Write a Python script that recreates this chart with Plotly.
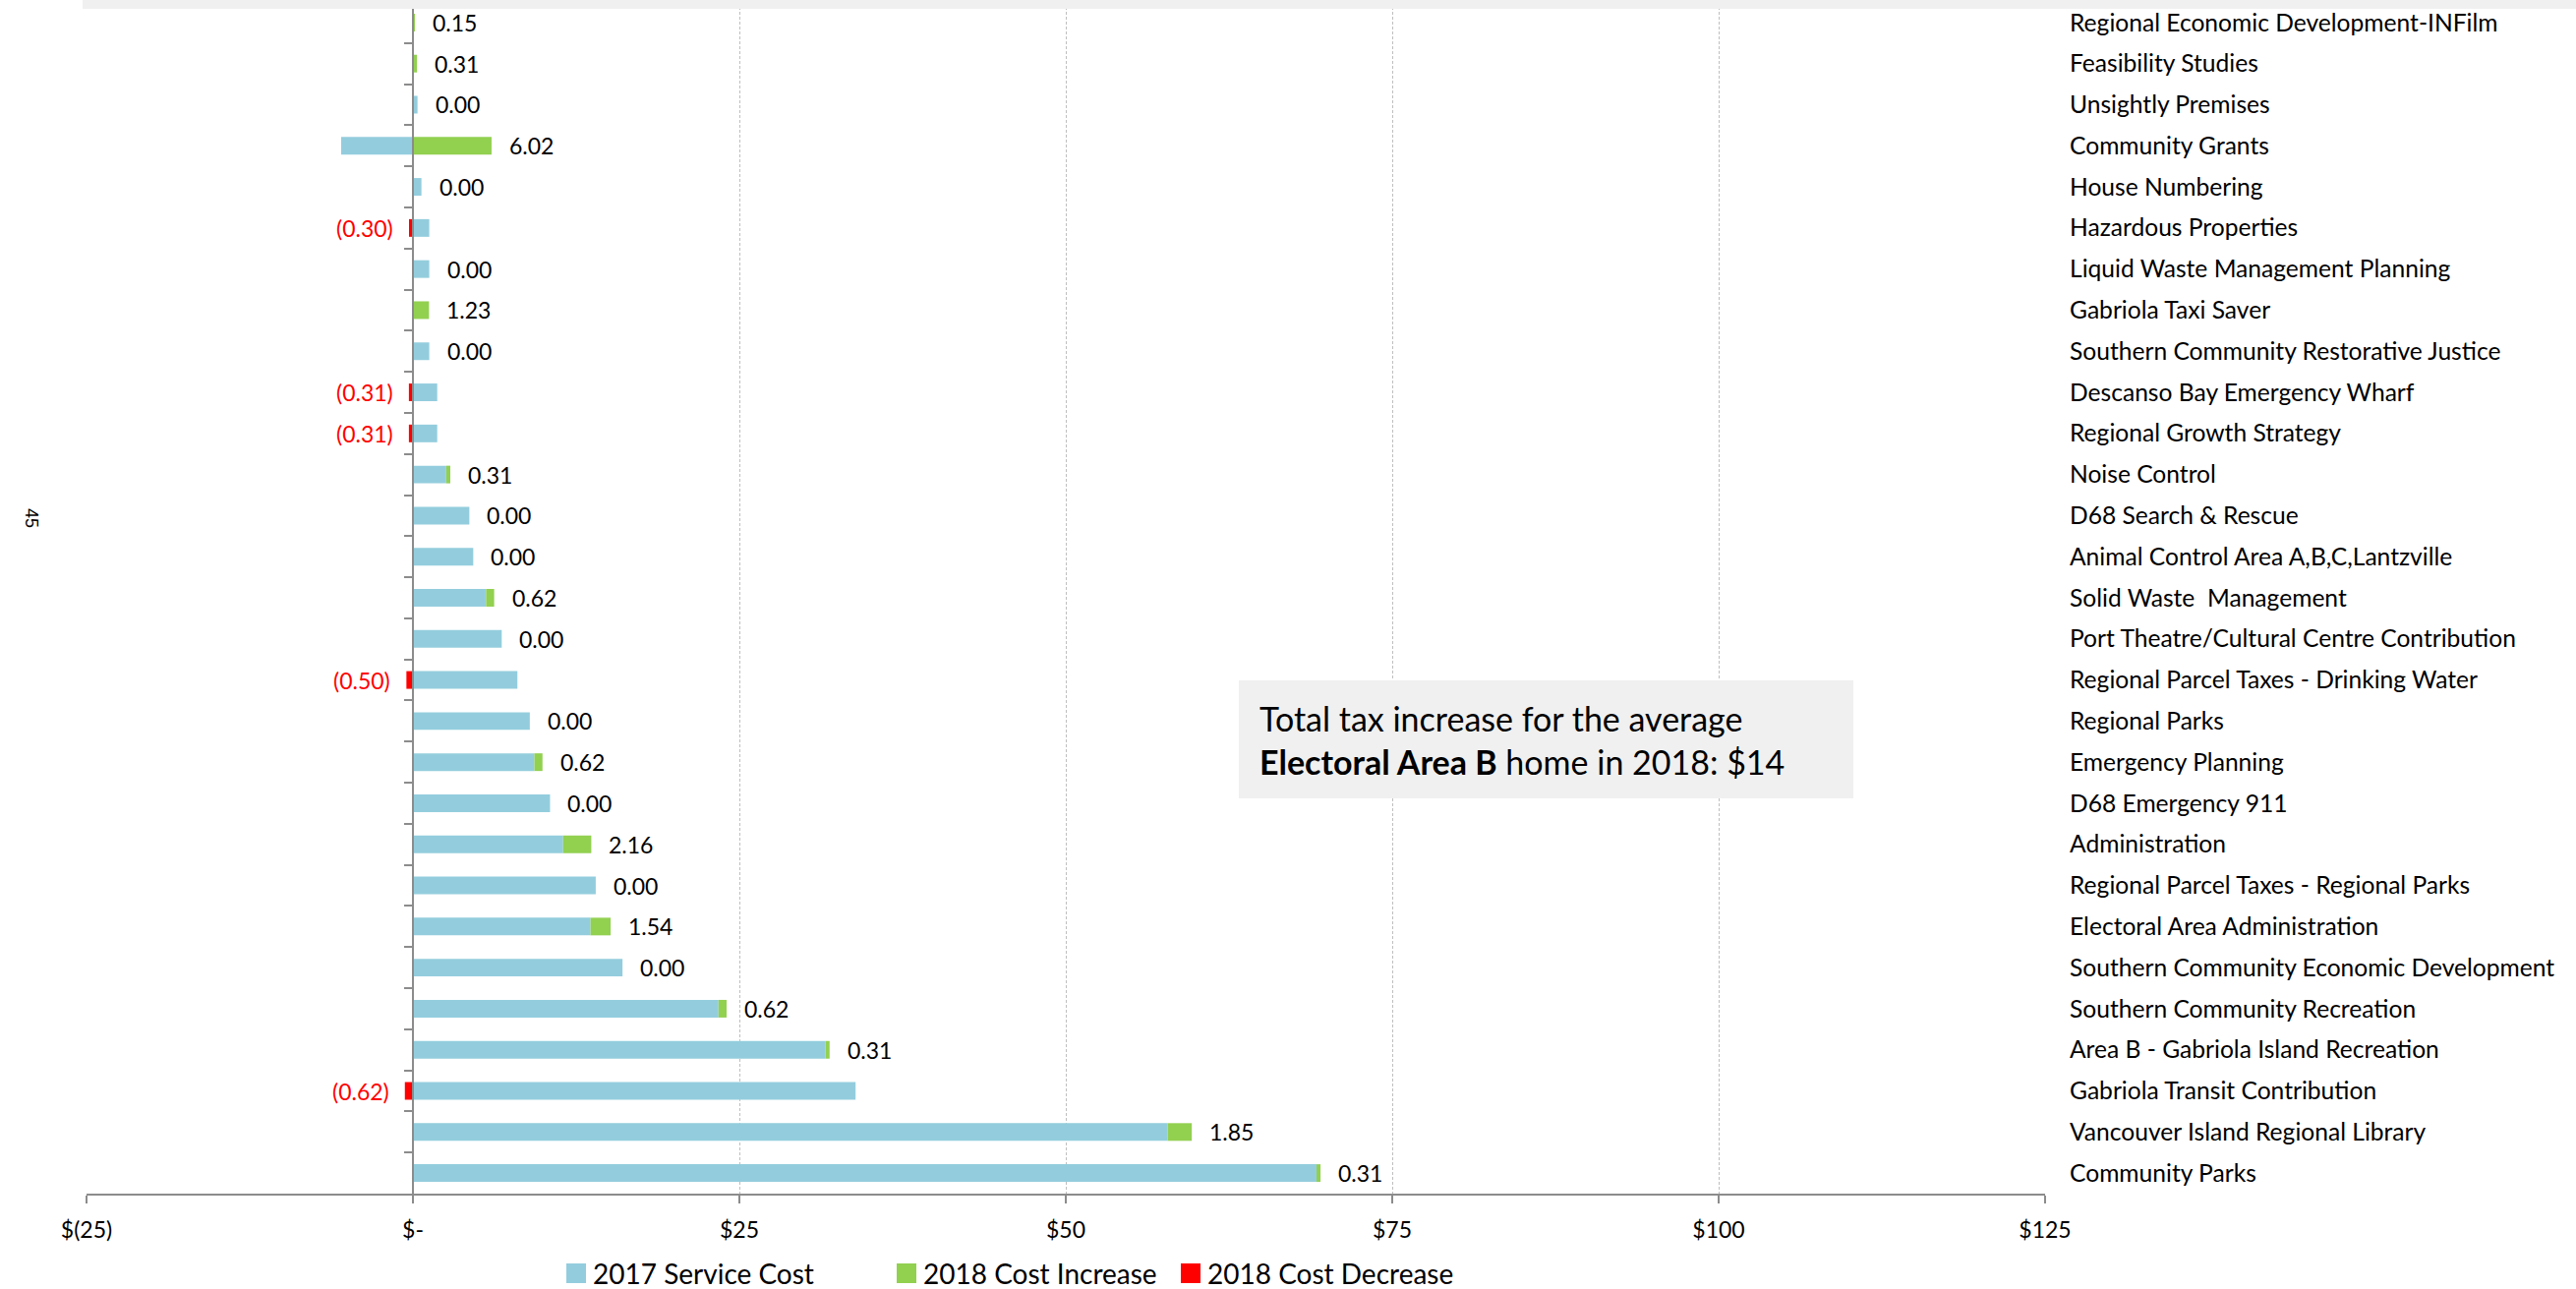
import plotly.graph_objects as go

categories = [
    "Regional Economic Development-INFilm",
    "Feasibility Studies",
    "Unsightly Premises",
    "Community Grants",
    "House Numbering",
    "Hazardous Properties",
    "Liquid Waste Management Planning",
    "Gabriola Taxi Saver",
    "Southern Community Restorative Justice",
    "Descanso Bay Emergency Wharf",
    "Regional Growth Strategy",
    "Noise Control",
    "D68 Search & Rescue",
    "Animal Control Area A,B,C,Lantzville",
    "Solid Waste  Management",
    "Port Theatre/Cultural Centre Contribution",
    "Regional Parcel Taxes - Drinking Water",
    "Regional Parks",
    "Emergency Planning",
    "D68 Emergency 911",
    "Administration",
    "Regional Parcel Taxes - Regional Parks",
    "Electoral Area Administration",
    "Southern Community Economic Development",
    "Southern Community Recreation",
    "Area B - Gabriola Island Recreation",
    "Gabriola Transit Contribution",
    "Vancouver Island Regional Library",
    "Community Parks",
]

cost_2017 = [0, 0, 0.35, -5.5, 0.65, 1.25, 1.25, 0, 1.25, 1.86, 1.86, 2.55, 4.32, 4.62,
             5.6, 6.8, 8.0, 8.95, 9.3, 10.5, 11.5, 14.0, 13.6, 16.05, 23.4, 31.6, 33.9,
             57.8, 69.2]
increase_2018 = [0.15, 0.31, 0, 6.02, 0, 0, 0, 1.23, 0, 0, 0, 0.31, 0, 0, 0.62, 0, 0, 0,
                 0.62, 0, 2.16, 0, 1.54, 0, 0.62, 0.31, 0, 1.85, 0.31]
decrease_2018 = [0, 0, 0, 0, 0, -0.30, 0, 0, 0, -0.31, -0.31, 0, 0, 0, 0, 0, -0.50, 0, 0,
                 0, 0, 0, 0, 0, 0, 0, -0.62, 0, 0]

x_tickvals = [-25, 0, 25, 50, 75, 100, 125]
x_ticktext = ["$(25)", "$-", "$25", "$50", "$75", "$100", "$125"]

series_names = ["2017 Service Cost", "2018 Cost Increase", "2018 Cost Decrease"]
colors = ["#93CDDD", "#92D050", "#FF0000"]

FONT = "Lato, Calibri, 'Open Sans', sans-serif"
GRID = "#BFBFBF"
AXIS = "#8C8C8C"

W, H = 2620, 1311
ML, MR, MT, MB = 88, 540, 2, 97
plot_w = W - ML - MR
plot_h = H - MT - MB


def px(X):
    return (X - ML) / plot_w


def py(Y):
    return (H - MB - Y) / plot_h


fig = go.Figure()
for vals, name, col in zip([cost_2017, increase_2018, decrease_2018], series_names, colors):
    fig.add_trace(go.Bar(
        y=categories, x=vals, name=name, orientation="h",
        marker=dict(color=col, line=dict(width=0)),
        hoverinfo="x+y", showlegend=False,
    ))

# invisible trace to drive the zero-position category axis (tick marks)
fig.add_trace(go.Scatter(
    y=categories, x=[0] * len(categories), yaxis="y2", mode="markers",
    marker=dict(opacity=0), showlegend=False, hoverinfo="skip",
))

annotations = []
# data labels
for cat, c, inc, dec in zip(categories, cost_2017, increase_2018, decrease_2018):
    if dec < 0:
        annotations.append(dict(
            x=dec, y=cat, xref="x", yref="y", text=f"({abs(dec):.2f})",
            showarrow=False, xanchor="right", yanchor="middle", xshift=-14,
            font=dict(family=FONT, size=23, color="#FF0000"),
        ))
    else:
        end = max(c, 0) + inc
        annotations.append(dict(
            x=end, y=cat, xref="x", yref="y", text=f"{inc:.2f}",
            showarrow=False, xanchor="left", yanchor="middle", xshift=16,
            font=dict(family=FONT, size=23, color="#000000"),
        ))

shapes = [
    # grey band at top
    dict(type="rect", xref="paper", yref="paper", layer="above",
         x0=px(84), x1=px(W), y0=py(9), y1=py(0),
         fillcolor="#F0F0F0", line=dict(width=0)),
    # text box background
    dict(type="rect", xref="paper", yref="paper", layer="above",
         x0=px(1260), x1=px(1885), y0=py(812), y1=py(692),
         fillcolor="#F0F0F0", line=dict(width=0)),
]

# text box content
annotations.append(dict(
    xref="paper", yref="paper", x=px(1279), y=py(752),
    xanchor="left", yanchor="middle",
    text="Total tax increase for the average<br><b>Electoral Area B</b> home in 2018: $14",
    align="left", showarrow=False,
    font=dict(family=FONT, size=34, color="#000000"),
))

# stray "45" on left
annotations.append(dict(
    xref="paper", yref="paper", x=px(20), y=py(527),
    text="45", textangle=90, showarrow=False,
    font=dict(family="Liberation Sans, Arial, sans-serif", size=18, color="#000000"),
))

# legend (drawn as keys + labels)
legend_x = [576, 912, 1201]
for name, col, lx in zip(series_names, colors, legend_x):
    shapes.append(dict(type="rect", xref="paper", yref="paper", layer="above",
                       x0=px(lx), x1=px(lx + 20), y0=py(1305), y1=py(1285),
                       fillcolor=col, line=dict(width=0)))
    annotations.append(dict(
        xref="paper", yref="paper", x=px(lx + 25), y=py(1295),
        xanchor="left", yanchor="middle", text=name, showarrow=False,
        font=dict(family=FONT, size=28, color="#000000"),
    ))

n = len(categories)
fig.update_layout(
    width=W, height=H,
    margin=dict(l=ML, r=MR, t=MT, b=MB, autoexpand=False),
    paper_bgcolor="white", plot_bgcolor="white",
    barmode="relative", bargap=0.57,
    font=dict(family=FONT, size=22, color="#000000"),
    showlegend=False,
    xaxis=dict(
        range=[-25, 125], tickvals=x_tickvals, ticktext=x_ticktext,
        showgrid=True, gridcolor=GRID, griddash="3px,2px", gridwidth=1,
        zeroline=False, showline=True, linecolor=AXIS, linewidth=2,
        ticks="outside", ticklen=8, tickcolor=AXIS, tickwidth=2,
        ticklabelstandoff=7,
        tickfont=dict(family=FONT, size=23, color="#000000"),
        automargin=False, fixedrange=True,
    ),
    yaxis=dict(
        type="category", categoryorder="array", categoryarray=categories,
        range=[n - 0.5, -0.5], side="right",
        showgrid=False, zeroline=False, showline=False, ticks="",
        ticklabelstandoff=24,
        tickfont=dict(family=FONT, size=24.6, color="#000000"),
        automargin=False,
    ),
    yaxis2=dict(
        type="category", categoryorder="array", categoryarray=categories,
        range=[n - 0.5, -0.5], overlaying="y", anchor="free",
        position=(0 - (-25)) / 150, side="left",
        showgrid=False, zeroline=False, showline=True, linecolor=AXIS, linewidth=2,
        ticks="outside", ticklen=8, tickcolor=AXIS, tickwidth=2,
        tickson="boundaries", showticklabels=False, automargin=False,
    ),
    annotations=annotations,
    shapes=shapes,
)

fig.write_html(
    "out.html",
    config={"displayModeBar": False},
    post_script="document.body.style.margin='0';document.body.style.overflow='hidden';",
)
